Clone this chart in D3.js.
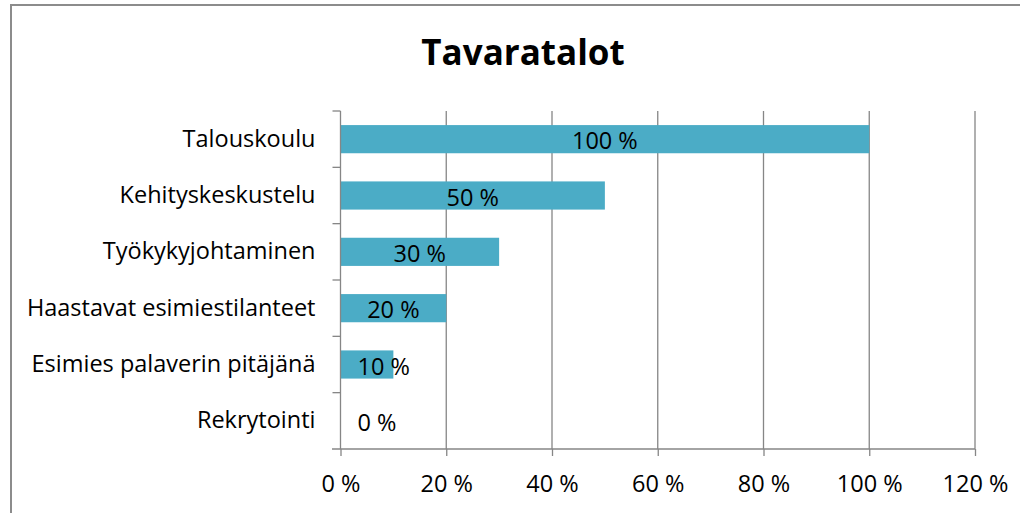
<!DOCTYPE html>
<html><head><meta charset="utf-8">
<script src="https://cdn.jsdelivr.net/npm/d3@7"></script>
<style>body{margin:0;background:#fff}svg{display:block}text{font-family:"Open Sans",sans-serif;fill:#000}</style>
</head><body>
<svg id="c" width="1020" height="513"></svg>
<script>
const title = "Tavaratalot";
const categories = ["Talouskoulu","Kehityskeskustelu","Työkykyjohtaminen","Haastavat esimiestilanteet","Esimies palaverin pitäjänä","Rekrytointi"];
const values = [1.0, 0.5, 0.3, 0.2, 0.1, 0.0];
const xTicks = [0, 0.2, 0.4, 0.6, 0.8, 1.0, 1.2];

const svg = d3.select("#c");
const fmt = v => Math.round(v*100) + " %";
const gridCol = "#868686";
const fs = 23.5;

svg.append("rect").attr("x",11).attr("y",5).attr("width",1040).attr("height",540)
  .attr("fill","#fff").attr("stroke","#8c8c8c").attr("stroke-width",2);

svg.append("text").attr("x",523).attr("y",65).attr("text-anchor","middle")
  .attr("font-weight","bold").attr("font-size",35).text(title);

const x = d3.scaleLinear().domain([0,1.2]).range([340.5,975]);
const y = d3.scaleBand().domain(categories).range([111,449]).paddingInner(0.5).paddingOuter(0.25);

// gridlines
svg.append("g").selectAll("line").data(xTicks.slice(1)).join("line")
  .attr("x1",d=>x(d)).attr("x2",d=>x(d)).attr("y1",111).attr("y2",449)
  .attr("stroke",gridCol).attr("stroke-width",1.3);

// bars
svg.append("g").selectAll("rect").data(values).join("rect")
  .attr("x",x(0)).attr("y",(d,i)=>y(categories[i]))
  .attr("width",d=>x(d)-x(0)).attr("height",y.bandwidth())
  .attr("fill","#4BACC6");

// x axis
const xa = svg.append("g").attr("transform","translate(0,449)")
  .call(d3.axisBottom(x).tickValues(xTicks).tickFormat(fmt).tickSize(7).tickPadding(19));
xa.select(".domain").attr("d",`M332,0H${x(1.2)}`).attr("stroke",gridCol).attr("stroke-width",1.3);
xa.selectAll(".tick line").attr("stroke",gridCol).attr("stroke-width",1.3);
xa.selectAll(".tick text").attr("font-size",fs).attr("font-family","Open Sans").attr("fill","#000");

// y axis
const ya = svg.append("g").attr("transform",`translate(${x(0)},0)`)
  .call(d3.axisLeft(y).tickSize(0).tickPadding(25));
ya.select(".domain").attr("d","M0,111V449").attr("stroke",gridCol).attr("stroke-width",1.3);
ya.selectAll(".tick text").attr("font-size",fs).attr("font-family","Open Sans").attr("fill","#000");
const bounds = categories.map((c,i)=>y(c) - y.step()*y.paddingInner()/2);
ya.append("g").selectAll("line").data(bounds).join("line")
  .attr("x1",-8).attr("x2",0).attr("y1",d=>d).attr("y2",d=>d)
  .attr("stroke",gridCol).attr("stroke-width",1.3);

// data labels
const lbl = svg.append("g").selectAll("text").data(values).join("text")
  .attr("font-size",fs)
  .attr("y",(d,i)=>y(categories[i])+y.bandwidth()/2+10)
  .text(fmt);
lbl.each(function(d){
  const w = this.getComputedTextLength();
  const cx = (x(0)+x(d))/2;
  d3.select(this).attr("x", Math.max(cx - w/2, x(0)+17));
});
</script>
</body></html>
